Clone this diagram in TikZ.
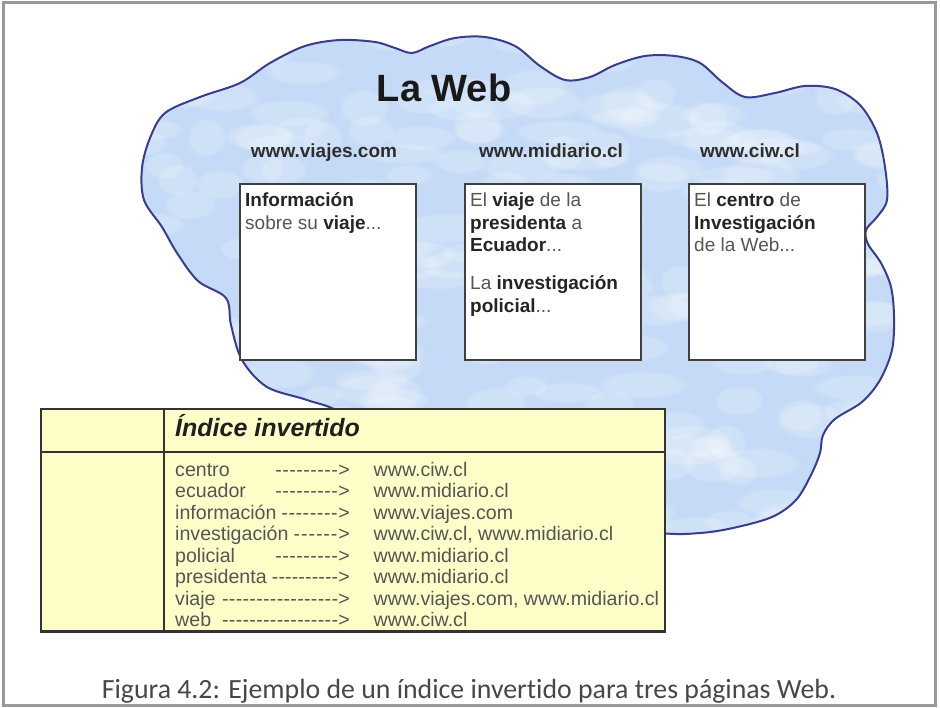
\documentclass[tikz,border=0pt]{standalone}
\usepackage{fontspec}
\usetikzlibrary{fadings}
\setmainfont{Liberation Sans}
\newfontfamily\capfont[Ligatures=NoCommon]{Carlito}
\definecolor{cloudfill}{HTML}{C4DAF6}
\definecolor{cloudline}{HTML}{3C3C8E}
\definecolor{tblfill}{HTML}{FEFEC8}
\definecolor{regc}{HTML}{555555}
\definecolor{boldc}{HTML}{252525}
\newcommand\bb[1]{{\color{boldc}\bfseries #1}}
\newcommand\idxrow[5]{%
  \node[rowtext, anchor=base west] (#1t) at (175,#2) {#3};
  \pgfmathsetmacro\dw{350-#4}
  \node[rowtext, anchor=base east] (#1a) at (350,#2) {\hbox to \dw pt{\xleaders\hbox{-}\hfill>}};
  \node[rowtext, anchor=base west] (#1u) at (373.5,#2) {#5};%
}
\begin{document}
\begin{tikzpicture}[x=1pt,y=-1pt,
  frame/.style={draw=black!40, line width=3pt},
  cloud/.style={draw=cloudline, line width=2pt},
  pagebox/.style={draw=black!75, line width=2pt, fill=white, minimum width=176pt, minimum height=176pt, inner sep=0pt, anchor=north west},
  title/.style={font=\fontsize{38}{44}\selectfont\bfseries, text=black!90, inner sep=0pt, anchor=base},
  url/.style={font=\fontsize{19}{22}\selectfont\bfseries, text=black!82, inner sep=0pt, anchor=base},
  bt/.style={font=\fontsize{19}{22}\selectfont, text=regc, inner sep=0pt, anchor=base west},
  tbl/.style={draw=black!80, line width=2pt, fill=tblfill, minimum width=624pt, minimum height=223pt, inner sep=0pt, anchor=north west},
  tline/.style={draw=black!80, line width=2pt},
  hdr/.style={font=\fontsize{25}{29}\selectfont\bfseries\itshape, text=black!88, inner sep=0pt, anchor=base west},
  rowtext/.style={font=\fontsize{19.6}{22}\selectfont, text=regc, inner sep=0pt},
  capt/.style={font=\capfont\fontsize{27.8}{32}\selectfont, text=black!72, inner sep=0pt, anchor=base}
]
\useasboundingbox (0,0) rectangle (940,708);
\fill[white] (0,0) rectangle (940,708);
\draw[frame] (3,3) rectangle (935,705);

% cloud
\def\cloudpath{plot[smooth cycle, tension=0.55] coordinates {
 (165,113) (200,97) (240,83) (270,63) (305,46) (340,40) (375,42) (395,48) (412,53)
 (430,46) (455,38) (485,37) (515,46) (540,66) (565,80) (590,77) (615,65) (645,56)
 (675,56) (700,63) (722,82) (745,97) (775,93) (805,86) (835,89) (860,105) (877,133)
 (885,167) (887,200) (877,217) (866,230) (868,244) (881,263) (891,287) (894,317)
 (892,350) (880,380) (862,402) (835,419) (823,435) (820,453) (811,475) (796,500)
 (772,517) (733,528) (700,533) (660,533) (560,520) (420,470) (345,415)
 (307,400) (267,387) (242,360) (231,325) (226,298) (198,281) (177,253) (162,227)
 (144,200) (142,168) (150,138)}}
\fill[cloudfill] \cloudpath;
\begin{scope}
  \clip \cloudpath;
  \pgfmathsetseed{11}
  \foreach \k in {1,...,240}{
    \pgfmathsetmacro\cx{130+780*rnd}
    \pgfmathsetmacro\cy{30+520*rnd}
    \pgfmathsetmacro\rx{20+28*rnd}
    \pgfmathsetmacro\ry{10+10*rnd}
    \fill[white, fill opacity=0.2, path fading=circle with fuzzy edge 20 percent] (\cx,\cy) ellipse [x radius=\rx pt, y radius=\ry pt];
  }
\end{scope}
\draw[cloud] \cloudpath;

\node[title] (web) at (444,102) {La Web};
\node[url] (u1) at (324,158) {www.viajes.com};
\node[url] (u2) at (551,158) {www.midiario.cl};
\node[url] (u3) at (750,158) {www.ciw.cl};

\node[pagebox] (p1) at (239,183) {};
\node[pagebox] (p2) at (464,183) {};
\node[pagebox] (p3) at (688,183) {};

\node[bt] (p1a) at (245,207) {\bb{Información}};
\node[bt] (p1b) at (245,229.5) {sobre su \bb{viaje}...};

\node[bt] (p2a) at (470,207) {El \bb{viaje} de la};
\node[bt] (p2b) at (470,229.5) {\bb{presidenta} a};
\node[bt] (p2c) at (470,252) {\bb{Ecuador}...};
\node[bt] (p2d) at (470,290) {La \bb{investigación}};
\node[bt] (p2e) at (470,313) {\bb{policial}...};

\node[bt] (p3a) at (694,207) {El \bb{centro} de};
\node[bt] (p3b) at (694,229.5) {\bb{Investigación}};
\node[bt] (p3c) at (694,252) {de la Web...};

% table
\node[tbl] (tbl) at (40,408) {};
\draw[tline] (163.5,408) -- (163.5,631);
\draw[tline] (40,452) -- (664,452);
\node[hdr] (hdr) at (175,437) {Índice invertido};

\idxrow{r1}{476}{centro}{275}{www.ciw.cl}
\idxrow{r2}{497.5}{ecuador}{275}{www.midiario.cl}
\idxrow{r3}{519}{información}{281}{www.viajes.com}
\idxrow{r4}{540.5}{investigación}{293}{www.ciw.cl, www.midiario.cl}
\idxrow{r5}{562}{policial}{275}{www.midiario.cl}
\idxrow{r6}{583.5}{presidenta}{272}{www.midiario.cl}
\idxrow{r7}{605}{viaje}{222}{www.viajes.com, www.midiario.cl}
\idxrow{r8}{626.5}{web}{222}{www.ciw.cl}
\draw[tline] (40,631) -- (664,631);

\node[capt] (cap) at (469,698) {Figura 4.2: Ejemplo de un índice invertido para tres páginas Web.};
\end{tikzpicture}
\end{document}
